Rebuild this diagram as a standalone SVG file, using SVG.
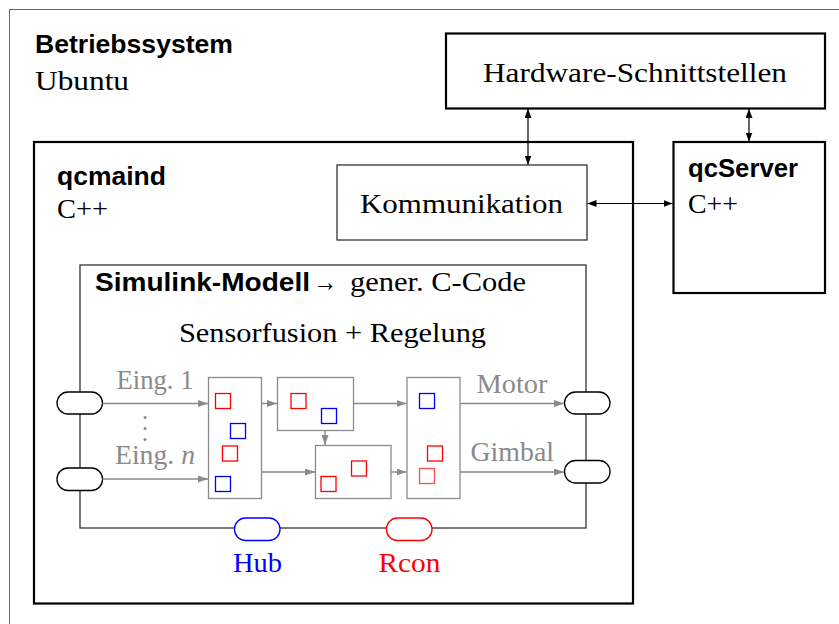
<svg xmlns="http://www.w3.org/2000/svg" width="839" height="624" viewBox="0 0 839 624">
  <style>
    .serif { font-family: "Liberation Serif", "Times New Roman", serif; font-size: 27px; fill: #000; }
    .bold { font-family: "Liberation Sans", Arial, sans-serif; font-weight: bold; font-size: 25.5px; fill: #000; }
    .gray { fill: #8a8a8a; }
    .box { fill: #fff; stroke: #000; stroke-width: 2.2; }
    .thin { fill: #fff; stroke: #333; stroke-width: 1.3; }
    .blk { fill: #fff; stroke: #8a8a8a; stroke-width: 1.3; }
    .port { fill: #fff; stroke: #000; stroke-width: 1.3; }
    .sq-r { fill: none; stroke: #ff0000; stroke-width: 1.3; }
    .sq-b { fill: none; stroke: #0000ff; stroke-width: 1.3; }
    .link { fill: none; stroke: #000; stroke-width: 1.2; }
    .flow { fill: none; stroke: #8a8a8a; stroke-width: 1.4; }
  </style>
  <defs>
    <marker id="ab" viewBox="0 0 10 10" refX="10" refY="5" markerWidth="9" markerHeight="7" markerUnits="userSpaceOnUse" preserveAspectRatio="none" orient="auto-start-reverse">
      <path d="M0,0 L10,5 L0,10 z" fill="#000"/>
    </marker>
    <marker id="ag" viewBox="0 0 10 10" refX="10" refY="5" markerWidth="10" markerHeight="7" markerUnits="userSpaceOnUse" preserveAspectRatio="none" orient="auto">
      <path d="M0,0 L10,5 L0,10 z" fill="#8a8a8a"/>
    </marker>
  </defs>

  <rect width="839" height="624" fill="#fff"/>

  <!-- operating system frame -->
  <g id="betriebssystem">
    <rect x="9.5" y="9.5" width="840" height="630" fill="none" stroke="#666" stroke-width="1"/>
    <text class="bold" x="35" y="53" textLength="198" lengthAdjust="spacingAndGlyphs">Betriebssystem</text>
    <text class="serif" x="35" y="90" textLength="94" lengthAdjust="spacingAndGlyphs">Ubuntu</text>
  </g>

  <g id="hardware">
    <rect class="box" x="446" y="33.5" width="379" height="75"/>
    <text class="serif" x="483" y="82" textLength="304" lengthAdjust="spacingAndGlyphs">Hardware-Schnittstellen</text>
  </g>

  <g id="qcserver">
    <rect class="box" x="673.5" y="142" width="151.5" height="151"/>
    <text class="bold" x="688" y="176.5" textLength="110" lengthAdjust="spacingAndGlyphs">qcServer</text>
    <text class="serif" x="688" y="213" textLength="50" lengthAdjust="spacingAndGlyphs">C++</text>
  </g>

  <g id="qcmaind">
    <rect class="box" x="34" y="142" width="599" height="461.5"/>
    <text class="bold" x="57" y="185" textLength="109" lengthAdjust="spacingAndGlyphs">qcmaind</text>
    <text class="serif" x="57" y="218" textLength="51" lengthAdjust="spacingAndGlyphs">C++</text>
  </g>

  <g id="kommunikation">
    <rect class="thin" x="337" y="165" width="250" height="75"/>
    <text class="serif" x="360" y="213" textLength="203" lengthAdjust="spacingAndGlyphs">Kommunikation</text>
  </g>

  <g id="simulink">
    <rect class="thin" x="80" y="265" width="506" height="263"/>
    <text class="bold" x="95" y="291" textLength="215" lengthAdjust="spacingAndGlyphs">Simulink-Modell</text>
    <text class="serif" x="313" y="291" font-size="36" textLength="24" lengthAdjust="spacingAndGlyphs">→</text>
    <text class="serif" x="350" y="291" textLength="176" lengthAdjust="spacingAndGlyphs">gener. C-Code</text>
    <text class="serif" x="179" y="342" textLength="307" lengthAdjust="spacingAndGlyphs">Sensorfusion + Regelung</text>
  </g>

  <!-- processing blocks inside the model -->
  <g id="block1">
    <rect class="blk" x="208.5" y="377.5" width="53" height="121"/>
    <rect class="sq-r" x="215.5" y="393.5" width="15" height="15"/>
    <rect class="sq-b" x="230.5" y="423.5" width="15" height="15"/>
    <rect class="sq-r" x="222.5" y="446" width="15" height="15"/>
    <rect class="sq-b" x="215.5" y="476.5" width="15" height="15"/>
  </g>
  <g id="block2">
    <rect class="blk" x="277.5" y="377.5" width="76" height="53"/>
    <rect class="sq-r" x="291" y="393.5" width="15" height="15"/>
    <rect class="sq-b" x="321.5" y="408.5" width="15" height="15"/>
  </g>
  <g id="block3">
    <rect class="blk" x="315.5" y="445.5" width="75.5" height="53"/>
    <rect class="sq-r" x="351.5" y="461" width="15" height="15"/>
    <rect class="sq-r" x="321" y="476.5" width="15" height="15"/>
  </g>
  <g id="block4">
    <rect class="blk" x="407" y="377.5" width="53" height="121"/>
    <rect class="sq-b" x="419.5" y="393.5" width="15" height="15"/>
    <rect class="sq-r" x="427.5" y="446" width="15" height="15"/>
    <rect class="sq-r" x="419.5" y="468.5" width="15" height="15" opacity="0.7"/>
  </g>

  <!-- ports on the model border -->
  <g id="port-in1"><rect class="port" x="57" y="392" width="45.5" height="22" rx="11"/></g>
  <g id="port-inn"><rect class="port" x="57" y="468" width="45.5" height="22.5" rx="11"/></g>
  <g id="port-motor"><rect class="port" x="564.5" y="392" width="45.5" height="22" rx="11"/></g>
  <g id="port-gimbal"><rect class="port" x="564.5" y="460.5" width="45.5" height="22.5" rx="11"/></g>
  <g id="hub">
    <rect x="234.5" y="518" width="45.5" height="22.5" rx="11" fill="#fff" stroke="#0000ff" stroke-width="1.3"/>
    <text class="serif" x="233" y="571.5" style="fill:#0000ff" textLength="49" lengthAdjust="spacingAndGlyphs">Hub</text>
  </g>
  <g id="rcon">
    <rect x="386.5" y="518" width="45.5" height="22.5" rx="11" fill="#fff" stroke="#ff0000" stroke-width="1.3"/>
    <text class="serif" x="378.5" y="571.5" style="fill:#ff0000" textLength="62" lengthAdjust="spacingAndGlyphs">Rcon</text>
  </g>

  <g id="connectors">
    <line class="link" x1="528" y1="109" x2="528" y2="164.5" marker-start="url(#ab)" marker-end="url(#ab)"/>
    <line class="link" x1="749" y1="109" x2="749" y2="141.5" marker-start="url(#ab)" marker-end="url(#ab)"/>
    <line class="link" x1="587.5" y1="203.5" x2="672.5" y2="203.5" marker-start="url(#ab)" marker-end="url(#ab)"/>

    <line class="flow" x1="102.5" y1="403.5" x2="208" y2="403.5" marker-end="url(#ag)"/>
    <line class="flow" x1="102.5" y1="479" x2="208" y2="479" marker-end="url(#ag)"/>
    <line class="flow" x1="261.5" y1="403.5" x2="277" y2="403.5" marker-end="url(#ag)"/>
    <line class="flow" x1="325" y1="430.5" x2="325" y2="445" marker-end="url(#ag)"/>
    <line class="flow" x1="261.5" y1="472" x2="315" y2="472" marker-end="url(#ag)"/>
    <line class="flow" x1="353.5" y1="403.5" x2="406.5" y2="403.5" marker-end="url(#ag)"/>
    <line class="flow" x1="391" y1="472" x2="406.5" y2="472" marker-end="url(#ag)"/>
    <line class="flow" x1="460" y1="403.5" x2="564" y2="403.5" marker-end="url(#ag)"/>
    <line class="flow" x1="460" y1="472" x2="564" y2="472" marker-end="url(#ag)"/>
  </g>

  <!-- signal labels -->
  <g id="labels">
    <text class="serif gray" x="116.5" y="388.5" textLength="77" lengthAdjust="spacingAndGlyphs">Eing. 1</text>
    <circle cx="145" cy="417.5" r="1.5" fill="#8a8a8a"/>
    <circle cx="145" cy="428.5" r="1.5" fill="#8a8a8a"/>
    <circle cx="145" cy="439.5" r="1.5" fill="#8a8a8a"/>
    <text class="serif gray" x="115" y="464" textLength="80" lengthAdjust="spacingAndGlyphs">Eing. <tspan font-style="italic">n</tspan></text>
    <text class="serif gray" x="476.5" y="392.5" textLength="71" lengthAdjust="spacingAndGlyphs">Motor</text>
    <text class="serif gray" x="470.5" y="461" textLength="83.5" lengthAdjust="spacingAndGlyphs">Gimbal</text>
  </g>
</svg>
